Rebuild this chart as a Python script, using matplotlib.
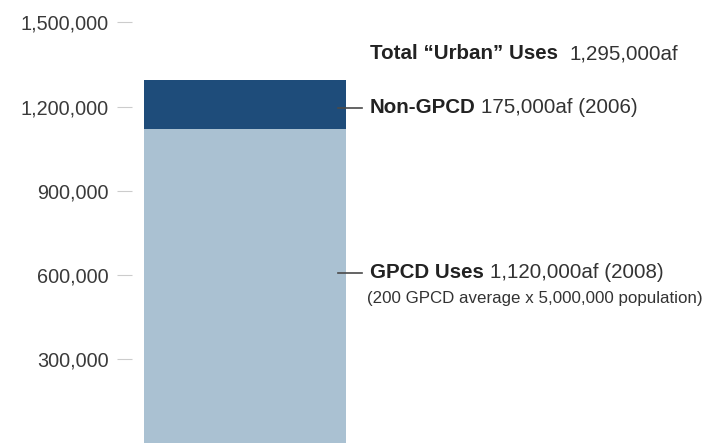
import matplotlib.pyplot as plt
from matplotlib.ticker import FuncFormatter

plt.rcParams["font.family"] = ["Liberation Sans", "DejaVu Sans"]

# Urban water use, acre-feet
gpcd_uses = 1120000
non_gpcd = 175000
total_urban = gpcd_uses + non_gpcd
yticks = [300000, 600000, 900000, 1200000, 1500000]

light = "#aac1d2"
dark = "#1e4c7a"

fig = plt.figure(figsize=(7.12, 4.43), dpi=100)
ax = fig.add_axes([132 / 712, 0, 580 / 712, 1])
ax.set_xlim(0, 1)
ax.set_ylim(0, 1580000)

bx, bw = 0.1948, 0.348
ax.bar(bx, gpcd_uses, bw, color=light, linewidth=0)
ax.bar(bx, non_gpcd, bw, bottom=gpcd_uses, color=dark, linewidth=0)

for s in ax.spines.values():
    s.set_visible(False)
ax.set_xticks([])
ax.set_yticks(yticks)
ax.yaxis.set_major_formatter(FuncFormatter(lambda v, p: f"{int(v):,}"))
ax.tick_params(axis="y", length=11, width=0.8, color="#cccccc", pad=6,
               labelsize=14.3, labelcolor="#3a3a3a")

# leader lines and labels
right = bx + bw / 2
lx0, lx1 = right - 0.014, right + 0.028
tx = right + 0.041
line_kw = dict(color="#4a4a4a", lw=1.2)
fs = 14.8


def label(y, bold, rest, gap, size=fs, x=tx):
    t = ax.text(x, y, bold, fontsize=size, fontweight="bold",
                color="#222222", va="center")
    ax.annotate(rest, xy=(1, 0), xycoords=t, xytext=(gap, 0),
                textcoords="offset points", va="bottom",
                fontsize=size, color="#333333")


y_non = gpcd_uses + non_gpcd / 2 - 12000
ax.plot([lx0, lx1], [y_non, y_non], **line_kw)
label(y_non, "Non-GPCD", f"{non_gpcd:,}af (2006)", 4)

y_g = 607000
ax.plot([lx0, lx1], [y_g, y_g], **line_kw)
label(y_g, "GPCD Uses", f"{gpcd_uses:,}af (2008)", 4.5)
ax.text(tx - 0.004, y_g - 92000, "(200 GPCD average x 5,000,000 population)",
        fontsize=12.2, color="#333333", va="center")

label(1388000, "Total \u201cUrban\u201d Uses", f"{total_urban:,}af", 8.5)

fig.savefig("out.png", dpi=100)
